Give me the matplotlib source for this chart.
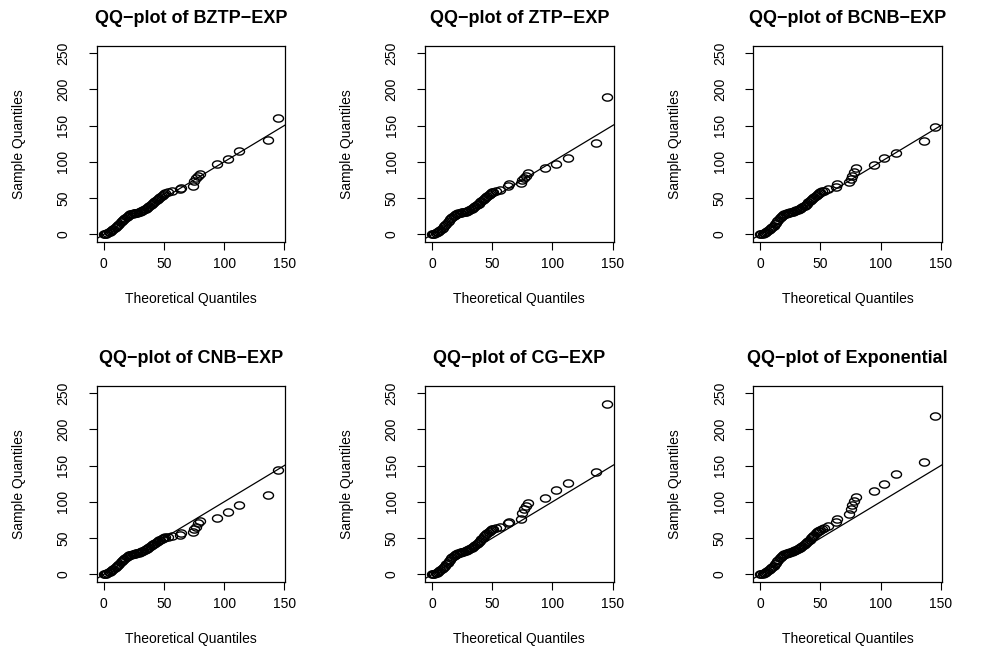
import numpy as np
import matplotlib
matplotlib.use('Agg')
import matplotlib.pyplot as plt
from matplotlib.path import Path

matplotlib.rcParams['font.family'] = 'Liberation Sans'
matplotlib.rcParams['font.size'] = 10

# theoretical quantiles (shared by all panels)
x_q = [0, 1, 2, 3, 4, 5, 6, 7, 8, 9, 10, 11, 12, 13, 14, 15, 16, 17, 18, 19,
       20, 21, 22, 23, 24, 25, 26, 27, 28, 29, 30, 31, 32, 33, 34, 35, 36, 37, 38, 39,
       40, 41, 42, 43, 44, 45, 46, 47, 48, 49, 50, 51,
       53, 56.6, 63, 64, 74, 75, 76.5, 78, 79.6, 94.2, 103, 112.7, 136.2, 145]

# sample quantiles, one list per panel
y_bztp = [0, 0.5, 1, 2, 3, 4, 5, 6, 7, 8.5, 10, 11.5, 13, 15, 17, 18.5, 20, 21.5, 23, 24.5,
          26, 26.8, 27.5, 28, 28.5, 29, 29.3, 29.7, 30, 30.5, 31, 31.7, 32.5, 33.5, 34.5, 35.5,
          36.5, 37.7, 39, 40, 41.5, 43, 44.5, 46, 47.5, 49, 50.5, 52, 53.5, 55, 56, 57,
          58.5, 59.5, 62.3, 64, 67.3, 73.8, 78, 80, 83.5, 96.9, 103.8, 114.9, 129.6, 161]
y_ztp = [0, 0.5, 1, 2, 3, 4, 5, 6.5, 8, 9.5, 11, 13, 15, 17, 19, 21, 22.5, 24, 25.5, 27,
         28, 28.8, 29.3, 29.7, 30, 30.3, 30.7, 31, 31.5, 32, 32.7, 33.5, 34.5, 35.5, 36.5, 37.5,
         38.7, 40, 41.3, 42.5, 44, 45.5, 47, 48.5, 50, 51.5, 53, 54.5, 56, 57, 58, 59,
         60, 61.8, 67.3, 69, 71, 75.6, 78, 81, 84.9, 91.8, 96.9, 104.7, 125.5, 189]
y_bcnb = [0, 0.5, 1, 1.5, 2.5, 3.5, 4.5, 5.5, 7, 8.5, 10, 12, 14, 16, 18, 20, 22, 24, 25.5, 27,
          28, 28.7, 29.2, 29.6, 30, 30.4, 30.8, 31.3, 31.8, 32.4, 33, 33.8, 34.6, 35.5, 36.5, 37.5,
          38.5, 39.7, 41, 42.5, 44, 45.5, 47, 48.5, 50, 51.5, 53, 54.5, 56, 57.5, 58.5, 59.5,
          60, 63.2, 65.5, 69.2, 72.4, 77, 80.7, 86.3, 91.8, 96, 104.7, 112, 128.2, 147.6]
y_cnb = [0, 0.5, 1, 2, 3, 4, 5, 6, 7, 8.5, 10, 11.5, 13, 15, 17, 18.5, 20, 21.5, 23, 24.5,
         25.5, 26.2, 26.8, 27.3, 27.8, 28.2, 28.6, 29, 29.5, 30, 30.5, 31.2, 32, 32.8, 33.7, 34.6,
         35.6, 36.7, 37.8, 39, 40.2, 41.4, 42.6, 43.8, 45, 46, 47, 48, 49, 49.7, 50.3, 51,
         51.5, 52.5, 54.1, 56.4, 58.7, 62, 65.6, 71.1, 73.9, 78, 86.2, 95.4, 110, 143.6]
y_cg = [0, 0.5, 1, 1.5, 2.5, 3.5, 4.5, 5.5, 7, 8.5, 10, 12, 14, 16, 18, 20, 22, 24, 25.5, 27,
        28, 28.8, 29.5, 30, 30.5, 31, 31.5, 32, 32.7, 33.4, 34.2, 35, 35.8, 36.7, 37.7, 38.8,
        40, 41.5, 43, 44.5, 46.5, 48.5, 50.5, 52.5, 54, 55.5, 57, 58.5, 60, 61, 62, 62.5,
        63.5, 65.6, 70.2, 72.5, 77, 84, 90, 94.5, 99, 105.5, 116, 126.1, 141.3, 234.4]
y_exp = [0, 0.5, 1, 1.5, 2.5, 3.5, 4.5, 5.5, 7, 8.5, 10, 12, 14, 16, 18, 20, 22, 23.5, 25, 26.5,
         27.5, 28.3, 29, 29.5, 30, 30.6, 31.2, 31.8, 32.5, 33.2, 34, 35, 36, 37, 38, 39,
         40.2, 41.5, 43, 44.5, 46, 48, 50, 51.8, 53.5, 55, 56.5, 58, 59.5, 60.5, 61.5, 62.5,
         63.3, 67, 72.5, 76, 82.6, 90, 95.4, 101, 106.9, 115.6, 123.9, 139, 155, 218]

titles = ['QQ\u2212plot of BZTP\u2212EXP', 'QQ\u2212plot of ZTP\u2212EXP', 'QQ\u2212plot of BCNB\u2212EXP',
          'QQ\u2212plot of CNB\u2212EXP', 'QQ\u2212plot of CG\u2212EXP', 'QQ\u2212plot of Exponential']
samples = [y_bztp, y_ztp, y_bcnb, y_cnb, y_cg, y_exp]

# slightly wide open circle, like the R pch=1 in the original
t = np.linspace(0, 2*np.pi, 60)
ring = Path(np.column_stack([np.cos(t), 0.72*np.sin(t)]), closed=True)

fig = plt.figure(figsize=(9.82, 6.49), dpi=100)
lefts = [0.0985, 0.4328, 0.7671]
bottoms = [0.6276, 0.1037]
w, h = 0.192, 0.302

for i, (title, ys) in enumerate(zip(titles, samples)):
    ax = fig.add_axes([lefts[i % 3], bottoms[i // 3], w, h])
    ax.plot(x_q, ys, ls='none', marker=ring, ms=7.2, mfc='none', mec='black', mew=1.0)
    ax.axline((0, 0), slope=1, color='black', lw=0.9)
    ax.set_xlim(-5.8, 150.8)
    ax.set_ylim(-10, 260)
    ax.set_xticks([0, 50, 100, 150])
    ax.set_yticks([0, 50, 100, 150, 200, 250])
    ax.tick_params(direction='out', length=6, width=0.8, labelsize=10)
    ax.tick_params(axis='x', pad=5)
    ax.tick_params(axis='y', labelrotation=90, pad=13)
    for lab in ax.get_yticklabels():
        lab.set_verticalalignment('center')
    for s in ax.spines.values():
        s.set_linewidth(0.9)
    ax.set_title(title, fontsize=13, fontweight='bold', pad=16)
    ax.set_xlabel('Theoretical Quantiles', labelpad=15)
    ax.set_ylabel('Sample Quantiles', labelpad=22)

plt.savefig('out.png', dpi=100)
